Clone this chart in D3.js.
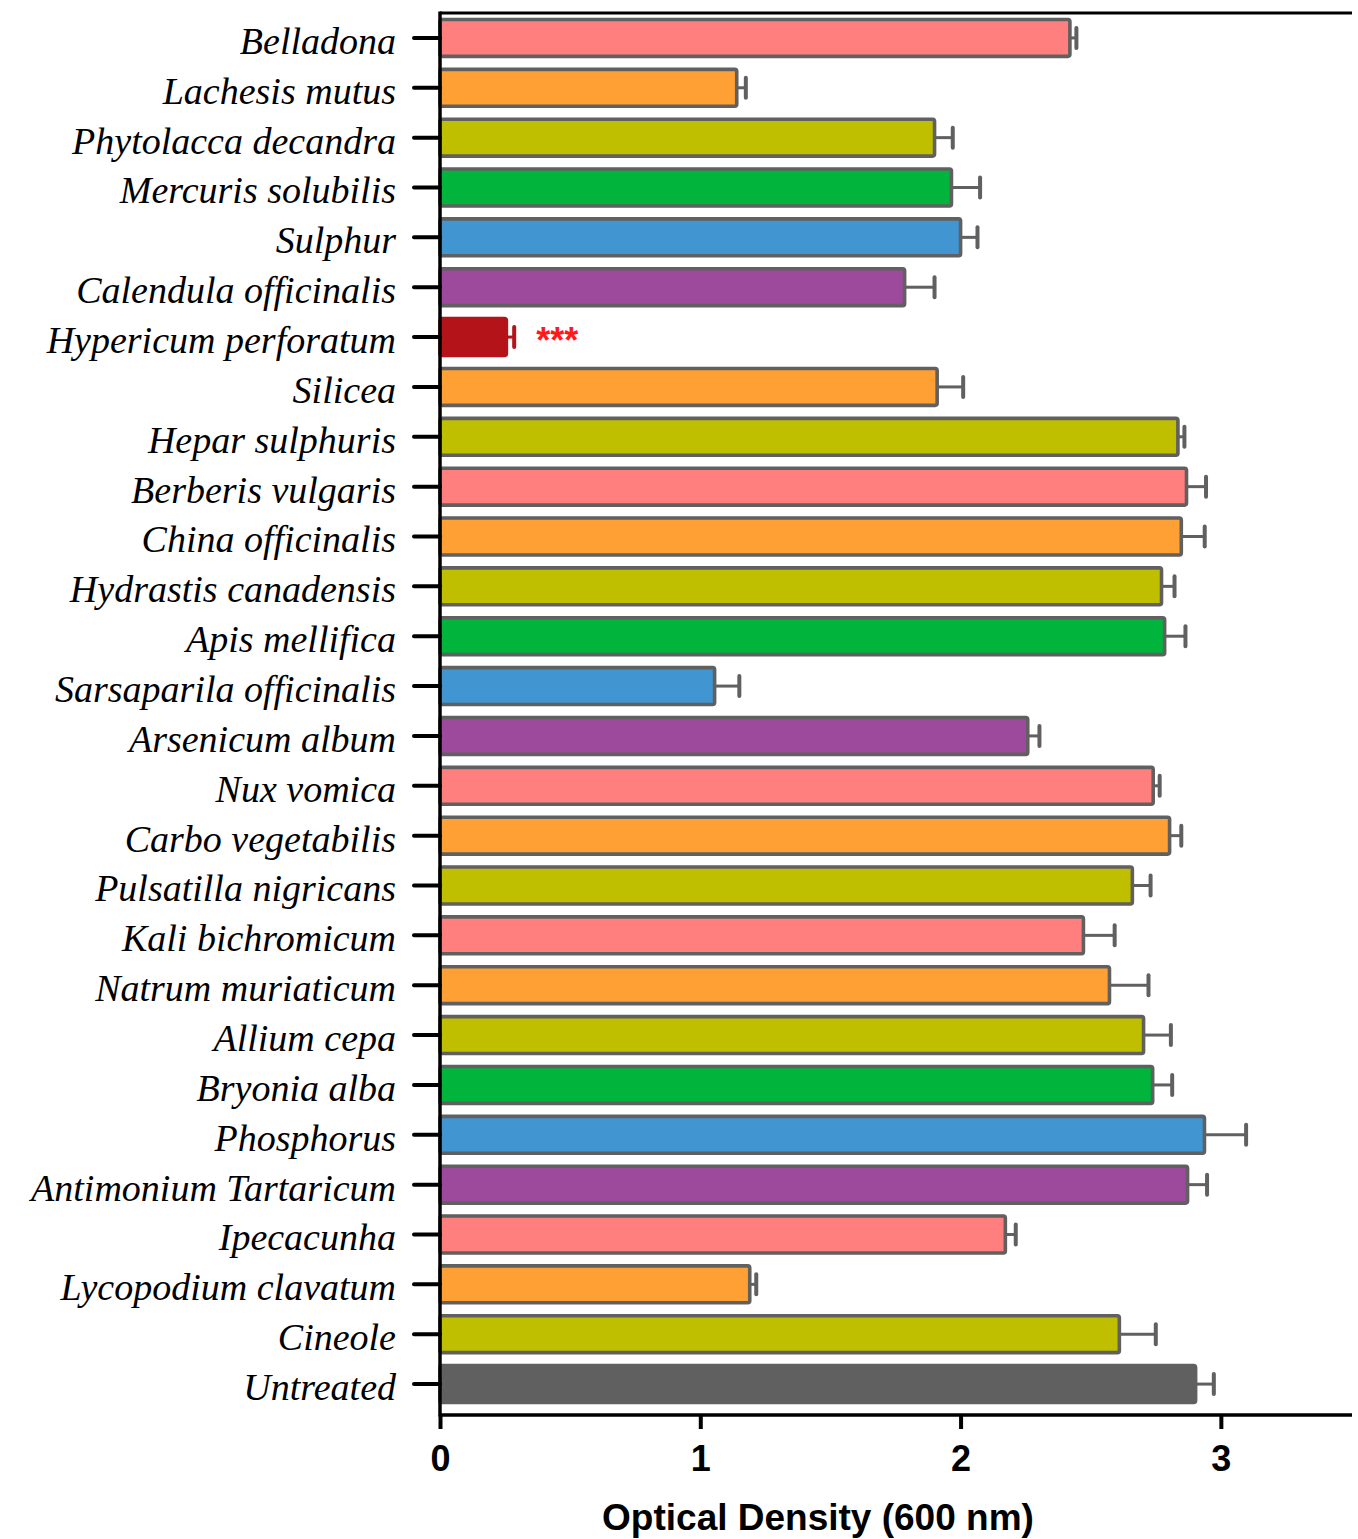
<!DOCTYPE html>
<html>
<head>
<meta charset="utf-8">
<script src="https://cdn.jsdelivr.net/npm/d3@7"></script>
<style>
  html, body { margin: 0; padding: 0; background: #fff; }
  svg { display: block; }
</style>
</head>
<body>
<div id="chart"></div>
<script>
// Treatments, top to bottom
const categories = [
  "Belladona", "Lachesis mutus", "Phytolacca decandra", "Mercuris solubilis",
  "Sulphur", "Calendula officinalis", "Hypericum perforatum", "Silicea",
  "Hepar sulphuris", "Berberis vulgaris", "China officinalis", "Hydrastis canadensis",
  "Apis mellifica", "Sarsaparila officinalis", "Arsenicum album", "Nux vomica",
  "Carbo vegetabilis", "Pulsatilla nigricans", "Kali bichromicum", "Natrum muriaticum",
  "Allium cepa", "Bryonia alba", "Phosphorus", "Antimonium Tartaricum",
  "Ipecacunha", "Lycopodium clavatum", "Cineole", "Untreated"
];

// Mean optical density at 600 nm
const meanOD = [
  2.42, 1.14, 1.90, 1.965,
  2.00, 1.785, 0.255, 1.91,
  2.835, 2.868, 2.848, 2.772,
  2.784, 1.055, 2.258, 2.74,
  2.803, 2.66, 2.472, 2.572,
  2.703, 2.738, 2.937, 2.872,
  2.172, 1.19, 2.61, 2.903
];

// Standard error
const errOD = [
  0.025, 0.035, 0.07, 0.11,
  0.065, 0.115, 0.03, 0.10,
  0.025, 0.075, 0.09, 0.05,
  0.08, 0.095, 0.045, 0.025,
  0.045, 0.07, 0.12, 0.15,
  0.105, 0.075, 0.16, 0.075,
  0.04, 0.025, 0.14, 0.07
];

// Significance marks
const significance = { "Hypericum perforatum": "***" };

const xTicks = [0, 1, 2, 3];
const xTitle = "Optical Density (600 nm)";

// Fill palette cycled through the treatments
const palette = {
  pink: "#ff7f7f", orange: "#ffa035", olive: "#bfbf00", green: "#00b43c",
  blue: "#4195d1", purple: "#9e4a9c", red: "#b31319", grey: "#606060"
};
const fillKeys = [
  "pink", "orange", "olive", "green", "blue", "purple", "red", "orange",
  "olive", "pink", "orange", "olive", "green", "blue", "purple", "pink",
  "orange", "olive", "pink", "orange", "olive", "green", "blue", "purple",
  "pink", "orange", "olive", "grey"
];

const W = 1358, H = 1539;
const plotLeft = 440, plotRight = 1351, plotTop = 13, plotBottom = 1415;

const svg = d3.select("#chart").append("svg")
  .attr("width", W).attr("height", H);

const x = d3.scaleLinear().domain([0, 3.5]).range([plotLeft, plotRight]);
const y = d3.scaleBand().domain(categories).range([10, 1412])
  .paddingInner(0.26).paddingOuter(0.19);

const rows = categories.map((c, i) => ({
  name: c, v: meanOD[i], e: errOD[i], fill: palette[fillKeys[i]],
  solid: fillKeys[i] === "red" || fillKeys[i] === "grey"
}));

const edge = "#606060";

// Error bars (drawn first so bars cover their base)
const eb = svg.append("g");
rows.forEach(d => {
  const cy = y(d.name) + y.bandwidth() / 2;
  const col = d.solid ? d.fill : edge;
  eb.append("line")
    .attr("x1", x(d.v)).attr("x2", x(d.v + d.e))
    .attr("y1", cy).attr("y2", cy)
    .attr("stroke", col).attr("stroke-width", 3);
  eb.append("line")
    .attr("x1", x(d.v + d.e)).attr("x2", x(d.v + d.e))
    .attr("y1", cy - 10).attr("y2", cy + 10)
    .attr("stroke", col).attr("stroke-width", 4).attr("stroke-linecap", "round");
});

// Bars
svg.append("g").selectAll("rect").data(rows).join("rect")
  .attr("x", x(0))
  .attr("y", d => y(d.name))
  .attr("width", d => x(d.v) - x(0))
  .attr("height", y.bandwidth())
  .attr("rx", 2)
  .attr("fill", d => d.fill)
  .attr("stroke", d => d.solid ? d.fill : edge)
  .attr("stroke-width", 3.6);

// Significance labels
rows.filter(d => significance[d.name]).forEach(d => {
  svg.append("text")
    .attr("x", x(d.v + d.e) + 22)
    .attr("y", y(d.name) + y.bandwidth() / 2 + 16)
    .attr("fill", "#ff1a1a")
    .attr("font-family", "Liberation Sans, Arial, sans-serif")
    .attr("font-weight", "bold")
    .attr("font-size", 36)
    .text(significance[d.name]);
});

// Frame: top line, left axis, bottom axis
svg.append("line").attr("x1", plotLeft).attr("x2", plotRight + 1)
  .attr("y1", plotTop).attr("y2", plotTop)
  .attr("stroke", "#000").attr("stroke-width", 3);

const yAxis = svg.append("g").attr("transform", `translate(${plotLeft},0)`)
  .call(d3.axisLeft(y).tickSize(26).tickPadding(18));
yAxis.select(".domain").attr("d", `M0,${plotTop - 1.5}V${plotBottom + 1.5}`)
  .attr("stroke", "#000").attr("stroke-width", 3.5);
yAxis.selectAll(".tick line").attr("stroke", "#000").attr("stroke-width", 4)
  .attr("stroke-linecap", "round");
yAxis.selectAll(".tick text")
  .attr("font-family", "Liberation Serif, 'Times New Roman', serif")
  .attr("font-style", "italic")
  .attr("font-size", 38)
  .attr("fill", "#000")
  .attr("dy", "0.42em");

const xAxis = svg.append("g").attr("transform", `translate(0,${plotBottom})`)
  .call(d3.axisBottom(x).tickValues(xTicks).tickFormat(d3.format("d")).tickSize(14).tickPadding(16));
xAxis.select(".domain").attr("d", `M${plotLeft},0H${plotRight + 1}`)
  .attr("stroke", "#000").attr("stroke-width", 3.5);
xAxis.selectAll(".tick line").attr("stroke", "#000").attr("stroke-width", 4);
xAxis.selectAll(".tick text")
  .attr("font-family", "Liberation Sans, Arial, sans-serif")
  .attr("font-weight", "bold")
  .attr("font-size", 36)
  .attr("fill", "#000");

svg.append("text")
  .attr("x", 818).attr("y", 1530)
  .attr("text-anchor", "middle")
  .attr("font-family", "Liberation Sans, Arial, sans-serif")
  .attr("font-weight", "bold")
  .attr("font-size", 37)
  .text(xTitle);
</script>
</body>
</html>
